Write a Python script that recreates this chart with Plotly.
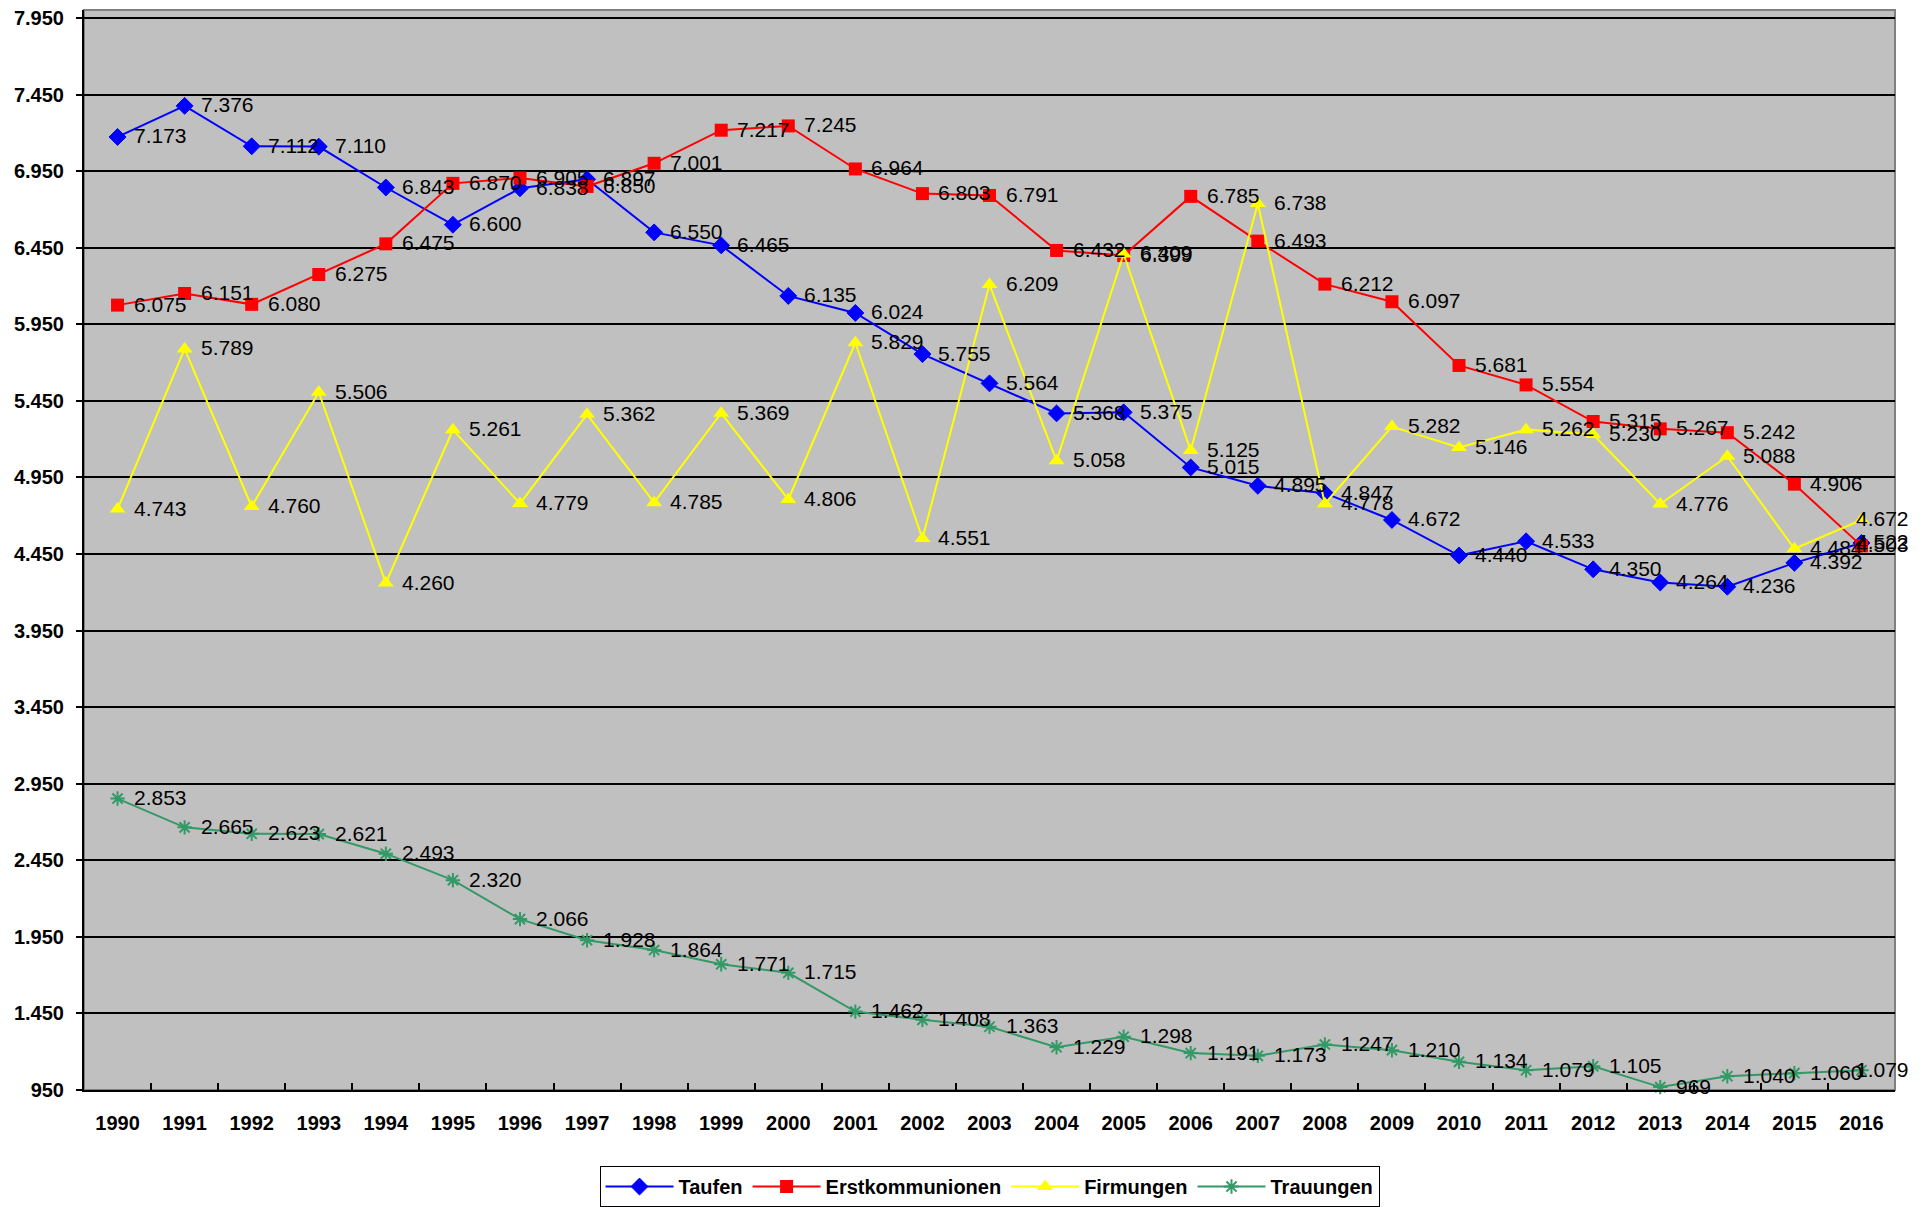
import plotly.graph_objects as go

YEARS = [str(y) for y in range(1990, 2017)]

TAUFEN = [7173, 7376, 7112, 7110, 6843, 6600, 6838, 6897, 6550, 6465,
          6135, 6024, 5755, 5564, 5368, 5375, 5015, 4895, 4847, 4672,
          4440, 4533, 4350, 4264, 4236, 4392, 4522]
ERSTKOMMUNIONEN = [6075, 6151, 6080, 6275, 6475, 6870, 6905, 6850, 7001, 7217,
                   7245, 6964, 6803, 6791, 6432, 6399, 6785, 6493, 6212, 6097,
                   5681, 5554, 5315, 5267, 5242, 4906, 4503]
FIRMUNGEN = [4743, 5789, 4760, 5506, 4260, 5261, 4779, 5362, 4785, 5369,
             4806, 5829, 4551, 6209, 5058, 6409, 5125, 6738, 4778, 5282,
             5146, 5262, 5230, 4776, 5088, 4484, 4672]
TRAUUNGEN = [2853, 2665, 2623, 2621, 2493, 2320, 2066, 1928, 1864, 1771,
             1715, 1462, 1408, 1363, 1229, 1298, 1191, 1173, 1247, 1210,
             1134, 1079, 1105, 969, 1040, 1060, 1079]

Y_TICKS = list(range(950, 8000, 500))

FONT = "Liberation Sans, Arial, sans-serif"
SERIES = [
    ("Taufen", TAUFEN, "#0000ff", "diamond", 13, 1),
    ("Erstkommunionen", ERSTKOMMUNIONEN, "#ff0000", "square", 13, 0),
    ("Firmungen", FIRMUNGEN, "#ffff00", "triangle-up", 14, 0),
    ("Trauungen", TRAUUNGEN, "#339966", "asterisk-open", 12, 2),
]


def de_number(v):
    # german thousands separator: 7.173
    return f"{v:,}".replace(",", ".")


fig = go.Figure()
for name, values, color, symbol, size, lw in SERIES:
    fig.add_trace(
        go.Scatter(
            x=YEARS,
            y=values,
            name=name,
            mode="lines+markers",
            line=dict(color=color, width=2),
            marker=dict(symbol=symbol, size=size, color=color,
                        line=dict(color=color, width=lw)),
            cliponaxis=False,
        )
    )

# data labels right of each point (x as category index, numeric-looking
# category strings are not looked up for annotations)
last = len(YEARS) - 1
for name, values, color, symbol, size, lw in SERIES:
    for i, v in enumerate(values):
        at_edge = i == last  # excel pulls the last labels back inside
        fig.add_annotation(
            x=i,
            y=v,
            text=de_number(v),
            showarrow=False,
            xanchor="right" if at_edge else "left",
            yanchor="middle",
            xshift=50 if at_edge else 14,
            yshift=1,
            font=dict(family=FONT, size=21, color="#000000"),
        )

fig.update_layout(
    width=1926,
    height=1207,
    paper_bgcolor="#ffffff",
    plot_bgcolor="#c0c0c0",
    margin=dict(l=76, r=39, t=2, b=125),
    font=dict(family=FONT, color="#000000"),
    showlegend=True,
    legend=dict(
        orientation="h",
        x=0.5,
        xanchor="center",
        y=-0.0704,
        yanchor="top",
        bgcolor="#ffffff",
        bordercolor="#000000",
        borderwidth=1,
        font=dict(family=FONT, size=20, weight="bold"),
        itemwidth=68,
    ),
    shapes=[
        dict(type="rect", xref="paper", yref="paper", x0=0, x1=1, y0=0, y1=1,
             line=dict(color="#808080", width=2), layer="below"),
    ],
)

fig.update_xaxes(
    type="category",
    range=[-0.5, 26.5],
    automargin=False,
    tickfont=dict(family=FONT, size=20, weight="bold"),
    showgrid=False,
    showline=True,
    linecolor="#000000",
    linewidth=2,
    ticks="inside",
    tickson="boundaries",
    ticklen=7,
    tickcolor="#000000",
    tickwidth=2,
    ticklabelstandoff=14,
)
fig.update_yaxes(
    range=[950, 8002],
    automargin=False,
    tickvals=Y_TICKS,
    ticktext=[de_number(t) for t in Y_TICKS],
    ticklabeloverflow="allow",
    tickfont=dict(family=FONT, size=20, weight="bold"),
    showgrid=True,
    gridcolor="#000000",
    gridwidth=2,
    zeroline=False,
    showline=True,
    linecolor="#000000",
    linewidth=2,
    ticks="outside",
    ticklen=6,
    tickcolor="#000000",
    tickwidth=2,
    ticklabelstandoff=8,
)

fig.write_html("out.html")
